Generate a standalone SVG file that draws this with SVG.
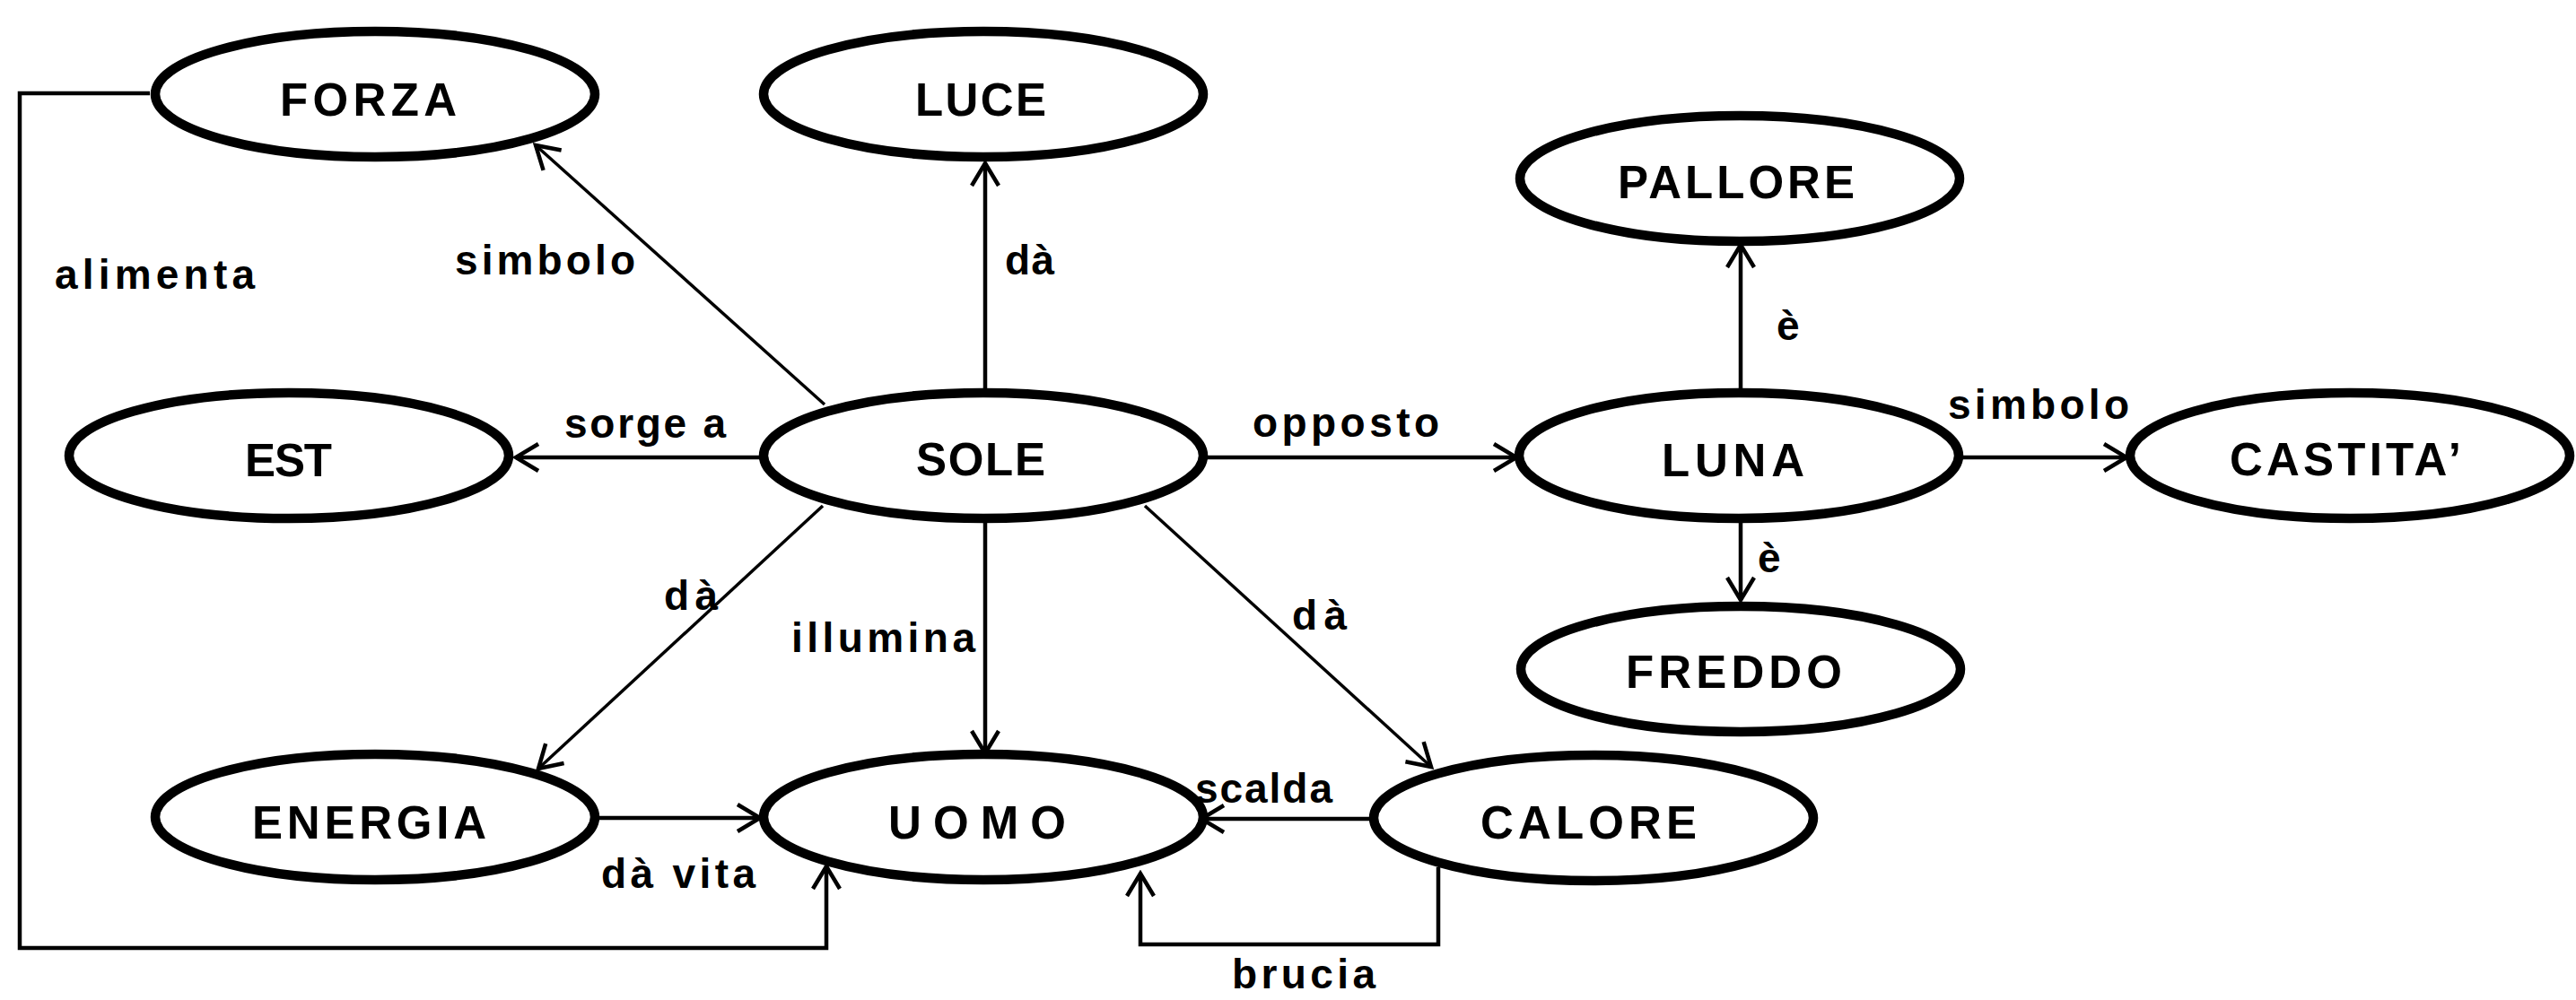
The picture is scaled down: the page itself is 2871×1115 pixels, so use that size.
<svg xmlns="http://www.w3.org/2000/svg" width="2871" height="1115" viewBox="0 0 2871 1115">
  <style>
    .node ellipse { fill: #ffffff; stroke: #000000; stroke-width: 10.5; }
    .node text { font-family: "Liberation Sans", Arial, sans-serif; font-weight: bold; font-size: 51px; fill: #000000; }
    .edge { fill: none; stroke: #000000; stroke-width: 4.5; marker-end: url(#arrow); }
    .thin { stroke-width: 3.5; }
    .label { font-family: "Liberation Sans", Arial, sans-serif; font-weight: bold; font-size: 46px; fill: #000000; }
  </style>
  <defs>
    <marker id="arrow" markerUnits="userSpaceOnUse" viewBox="-30 -20 34 40" refX="0" refY="0" markerWidth="34" markerHeight="40" orient="auto">
      <path d="M -25 -15 L 0 0 L -25 15" fill="none" stroke="#000000" stroke-width="4.5"/>
    </marker>
  </defs>
  <rect width="2871" height="1115" fill="#ffffff"/>

  <!-- connectors and their labels -->
  <g id="connectors">
    <path class="edge" d="M 167 104 H 22 V 1057 H 921 V 966"/>
    <path class="edge thin" d="M 919 451 L 597 162"/>
    <path class="edge" d="M 1098 436 V 182"/>
    <path class="edge" d="M 847 510 H 575"/>
    <path class="edge" d="M 1345 510 H 1690"/>
    <path class="edge thin" d="M 917 564 L 600 857"/>
    <path class="edge" d="M 1098 581 V 840"/>
    <path class="edge thin" d="M 1276 564 L 1595 855"/>
    <path class="edge" d="M 1940 435 V 273"/>
    <path class="edge" d="M 2187 510 H 2370"/>
    <path class="edge" d="M 1940 582 V 669"/>
    <path class="edge" d="M 666 912 H 847"/>
    <path class="edge" d="M 1529 913 H 1339"/>
    <path class="edge" d="M 1603 967 V 1053 H 1271 V 974"/>

    <text class="label" x="61" y="322" textLength="223" lengthAdjust="spacing">alimenta</text>
    <text class="label" x="507" y="306" textLength="201" lengthAdjust="spacing">simbolo</text>
    <text class="label" x="1120" y="306" textLength="55" lengthAdjust="spacing">dà</text>
    <text class="label" x="629" y="488" textLength="180" lengthAdjust="spacing">sorge a</text>
    <text class="label" x="1396" y="487" textLength="208" lengthAdjust="spacing">opposto</text>
    <text class="label" x="2171" y="467" textLength="202" lengthAdjust="spacing">simbolo</text>
    <text class="label" x="1980" y="379">è</text>
    <text class="label" x="1959" y="638">è</text>
    <text class="label" x="740" y="680" textLength="60" lengthAdjust="spacing">dà</text>
    <text class="label" x="882" y="727" textLength="205" lengthAdjust="spacing">illumina</text>
    <text class="label" x="1440" y="702" textLength="61" lengthAdjust="spacing">dà</text>
    <text class="label" x="1332" y="895" textLength="153" lengthAdjust="spacing">scalda</text>
    <text class="label" x="670" y="990" textLength="172" lengthAdjust="spacing">dà vita</text>
    <text class="label" x="1373" y="1102" font-size="44" textLength="160" lengthAdjust="spacing">brucia</text>
  </g>

  <!-- concept nodes -->
  <g id="forza" class="node">
    <ellipse cx="418" cy="105" rx="245" ry="70"/>
    <text x="312" y="129" textLength="197" lengthAdjust="spacing">FORZA</text>
  </g>
  <g id="luce" class="node">
    <ellipse cx="1096" cy="105" rx="245" ry="70"/>
    <text x="1020" y="129" textLength="146" lengthAdjust="spacing">LUCE</text>
  </g>
  <g id="pallore" class="node">
    <ellipse cx="1939" cy="199" rx="245" ry="70"/>
    <text x="1803" y="221" textLength="264" lengthAdjust="spacing">PALLORE</text>
  </g>
  <g id="est" class="node">
    <ellipse cx="322" cy="508" rx="245" ry="70"/>
    <text x="273" y="531" textLength="97" lengthAdjust="spacing">EST</text>
  </g>
  <g id="sole" class="node">
    <ellipse cx="1096" cy="508" rx="245" ry="70"/>
    <text x="1021" y="530" textLength="144" lengthAdjust="spacing">SOLE</text>
  </g>
  <g id="luna" class="node">
    <ellipse cx="1938" cy="508" rx="245" ry="70"/>
    <text x="1852" y="531" textLength="159" lengthAdjust="spacing">LUNA</text>
  </g>
  <g id="castita" class="node">
    <ellipse cx="2619" cy="508" rx="245" ry="70"/>
    <text x="2485" y="530" textLength="258" lengthAdjust="spacing">CASTITA’</text>
  </g>
  <g id="freddo" class="node">
    <ellipse cx="1940" cy="746" rx="245" ry="70"/>
    <text x="1812" y="767" textLength="241" lengthAdjust="spacing">FREDDO</text>
  </g>
  <g id="energia" class="node">
    <ellipse cx="418" cy="911" rx="245" ry="70"/>
    <text x="281" y="935" textLength="261" lengthAdjust="spacing">ENERGIA</text>
  </g>
  <g id="uomo" class="node">
    <ellipse cx="1096" cy="911" rx="245" ry="70"/>
    <text x="990" y="935" textLength="198" lengthAdjust="spacing">UOMO</text>
  </g>
  <g id="calore" class="node">
    <ellipse cx="1776" cy="912" rx="245" ry="70"/>
    <text x="1650" y="935" textLength="241" lengthAdjust="spacing">CALORE</text>
  </g>
</svg>
